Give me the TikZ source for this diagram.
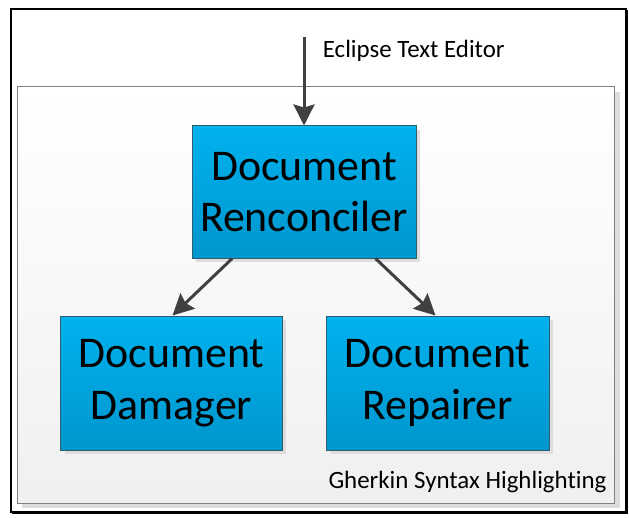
\documentclass[tikz,border=0pt]{standalone}
\usepackage{fontspec}
\setmainfont{Carlito}[Ligatures=NoCommon]
\usetikzlibrary{arrows.meta,shadows}
\definecolor{boxtop}{HTML}{00B2EE}
\definecolor{boxbot}{HTML}{0096CE}
\definecolor{boxline}{HTML}{2F5E6E}
\definecolor{linkcol}{HTML}{404040}
\definecolor{panelline}{HTML}{808080}
\definecolor{shadowcol}{HTML}{DDDDDD}
\tikzset{
  compbox/.style={draw=boxline, line width=1bp, top color=boxtop, bottom color=boxbot,
    minimum width=#1, minimum height=134bp, inner sep=0pt, align=center,
    font=\fontsize{44}{52}\selectfont,
    drop shadow={shadow xshift=4bp, shadow yshift=-4bp, fill=shadowcol, opacity=1}},
  link/.style={draw=linkcol, line width=3bp,
    -{Stealth[length=21bp, width=21bp, inset=3bp]}},
  caption/.style={font=\fontsize{25}{29}\selectfont, inner sep=0pt, anchor=base west}
}
\begin{document}
\begin{tikzpicture}[x=1bp, y=-1bp]
  \useasboundingbox (0,0) rectangle (629,518);
  \fill[white] (0,0) rectangle (629,518);
  % outer frame
  \draw[black, line width=2.3bp] (11.2,9.3) rectangle (626,512);
  \draw[black, line width=1.2bp] (627.4,10) -- (627.4,513.4) -- (12,513.4);
  % panel with its shadow
  \fill[shadowcol] (22,92) rectangle (620,508);
  \shade[top color=white, bottom color=black!6] (17,87) rectangle (614,503);
  \draw[panelline, line width=1bp] (17,87) rectangle (614,503);
  % components
  \node[compbox=224bp, minimum height=132bp] (rec) at (304,192) {Document\\Renconciler};
  \node[compbox=221bp] (dam) at (171.5,383) {Document\\Damager};
  \node[compbox=223bp] (rep) at (437.5,383) {Document\\Repairer};
  % labels
  \coordinate (src) at (304,37);
  \node[caption] (edlabel) at (322.7,58) {Eclipse Text Editor};
  \node[caption] (panellabel) at (328.3,488) {Gherkin Syntax Highlighting};
  % connectors
  \draw[link] (src) -- (rec.north);
  \draw[link] ([xshift=40.7bp]rec.south west) -- ([xshift=112bp]dam.north west);
  \draw[link] ([xshift=-41bp]rec.south east) -- ([xshift=110bp]rep.north west);
\end{tikzpicture}
\end{document}
